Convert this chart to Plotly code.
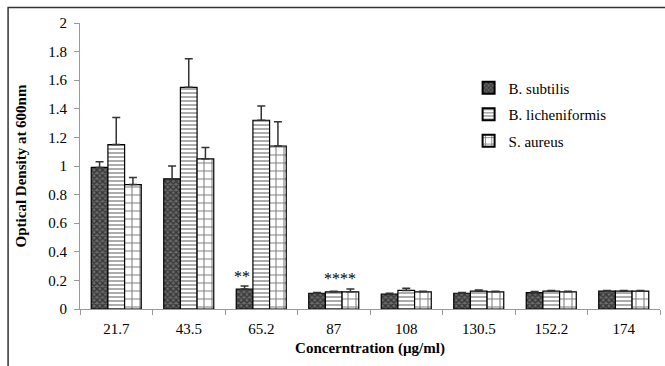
import plotly.graph_objects as go

categories = ["21.7", "43.5", "65.2", "87", "108", "130.5", "152.2", "174"]
subtilis = [0.99, 0.91, 0.14, 0.11, 0.105, 0.11, 0.115, 0.125]
subtilis_err = [0.04, 0.09, 0.02, 0.005, 0.005, 0.005, 0.008, 0.005]
lich = [1.15, 1.55, 1.32, 0.12, 0.13, 0.125, 0.125, 0.125]
lich_err = [0.19, 0.20, 0.10, 0.005, 0.015, 0.008, 0.005, 0.005]
aureus = [0.87, 1.05, 1.14, 0.12, 0.12, 0.12, 0.12, 0.125]
aureus_err = [0.05, 0.08, 0.17, 0.02, 0.005, 0.005, 0.005, 0.005]

font_fam = "Liberation Serif, Times New Roman, serif"

fig = go.Figure()
series = [
    ("B. subtilis", subtilis, subtilis_err, dict(shape="x", fgcolor="#000000", bgcolor="#6a6a6a", size=4, solidity=0.55)),
    ("B. licheniformis", lich, lich_err, dict(shape="-", fgcolor="#111111", bgcolor="white", size=4, solidity=0.35)),
    ("S. aureus", aureus, aureus_err, dict(shape="+", fgcolor="#000000", bgcolor="white", size=8, solidity=0.25)),
]
for i, (name, vals, err, pat) in enumerate(series):
    fig.add_trace(go.Bar(
        name=name, x=categories, y=vals, legendgroup=f"g{i}",
        marker=dict(color="white", pattern=pat, line=dict(color="black", width=1.2)),
        error_y=dict(type="data", array=err, arrayminus=[0]*len(err), symmetric=False,
                     color="#333333", thickness=1.5, width=4),
    ))

# annotations placed by category index (2 -> "65.2", 3 -> "87")
fig.add_annotation(x=2, y=0.155, text="**", showarrow=False, xshift=-19,
                   yanchor="bottom", font=dict(family=font_fam, size=16, color="black"))
fig.add_annotation(x=3, y=0.14, text="****", showarrow=False, xshift=6,
                   yanchor="bottom", font=dict(family=font_fam, size=16, color="black"))

tickfont = dict(family=font_fam, size=15, color="black")
fig.update_layout(
    width=665, height=366,
    margin=dict(l=80, r=5, t=23, b=57),
    paper_bgcolor="white", plot_bgcolor="white",
    barmode="group", bargap=0.31, bargroupgap=0,
    font=dict(family=font_fam, size=15, color="black"),
    showlegend=True,
    legend=dict(x=0.67, y=0.83, xanchor="left", yanchor="top",
                font=dict(family=font_fam, size=15), itemsizing="constant",
                tracegroupgap=4, bgcolor="rgba(0,0,0,0)", itemwidth=30),
    xaxis=dict(type="category", range=[-0.5, 7.5], showline=True, linecolor="#999999", linewidth=1,
               ticks="outside", tickson="boundaries", ticklen=5, tickcolor="#999999",
               showgrid=False, tickangle=0, tickfont=tickfont, ticklabelstandoff=6,
               title=dict(text="<b>Concerntration (µg/ml)</b>", font=dict(family=font_fam, size=15), standoff=6)),
    yaxis=dict(range=[0, 2], dtick=0.2, showline=True, linecolor="#999999", linewidth=1,
               ticks="outside", ticklen=5, tickcolor="#999999", showgrid=False,
               zeroline=False, tickformat="~g", tickfont=tickfont, ticklabelstandoff=4,
               title=dict(text="<b>Optical Density at 600nm</b>", font=dict(family=font_fam, size=15), standoff=18)),
)

fig.add_shape(type="rect", xref="paper", yref="paper",
              x0=-0.124, x1=1.3, y0=-0.5, y1=1.054,
              line=dict(color="#333333", width=1.5), fillcolor="rgba(0,0,0,0)", layer="above")

fig.write_html("out.html")
